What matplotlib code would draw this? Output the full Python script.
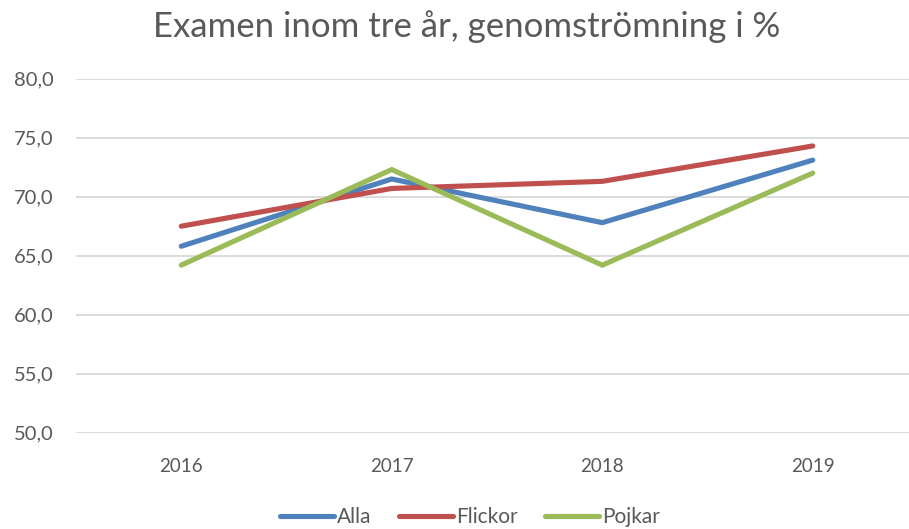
import matplotlib
matplotlib.use("Agg")
import matplotlib.pyplot as plt
from matplotlib.ticker import FuncFormatter

years = ["2016", "2017", "2018", "2019"]
alla = [65.8, 71.5, 67.8, 73.1]
flickor = [67.5, 70.7, 71.3, 74.3]
pojkar = [64.2, 72.3, 64.2, 72.0]
series_names = ["Alla", "Flickor", "Pojkar"]
colors = ["#4F81BD", "#C0504D", "#9BBB59"]

plt.rcParams['font.family'] = ['Lato', 'DejaVu Sans']
text_color = "#595959"

fig = plt.figure(figsize=(9.09, 5.29), dpi=100)
ax = fig.add_axes([76/909, 96.3/529, (918-76)/909, (450.3-96.3)/529])

x = list(range(len(years)))
for vals, name, c in zip([alla, flickor, pojkar], series_names, colors):
    ax.plot(x, vals, color=c, lw=3.7, label=name, solid_capstyle='round', solid_joinstyle='miter')

ax.set_xlim(-0.5, len(years) - 0.5)
ax.set_ylim(50, 80)
ax.set_yticks([50, 55, 60, 65, 70, 75, 80])
ax.yaxis.set_major_formatter(FuncFormatter(lambda v, p: f"{v:.1f}".replace(".", ",")))
ax.set_xticks(x)
ax.set_xticklabels(years)
ax.grid(axis='y', color='#D9D9D9', lw=1.3)
ax.set_axisbelow(True)
for s in ax.spines.values():
    s.set_visible(False)
ax.tick_params(axis='both', length=0, labelsize=13.5, colors=text_color)
ax.tick_params(axis='y', labelsize=14.5, pad=16)
ax.tick_params(axis='x', pad=18)

fig.text(467/909, 1 - 27/529, "Examen inom tre år, genomströmning i %", ha='center', va='center',
         fontsize=25, color=text_color)

leg = fig.legend(loc='center', bbox_to_anchor=(470/909, 1 - 517/529), ncol=3, frameon=False,
                 fontsize=15, handlelength=2.6, handletextpad=0.15, columnspacing=1.3)
for t in leg.get_texts():
    t.set_color(text_color)

fig.savefig("out.png", dpi=100)
